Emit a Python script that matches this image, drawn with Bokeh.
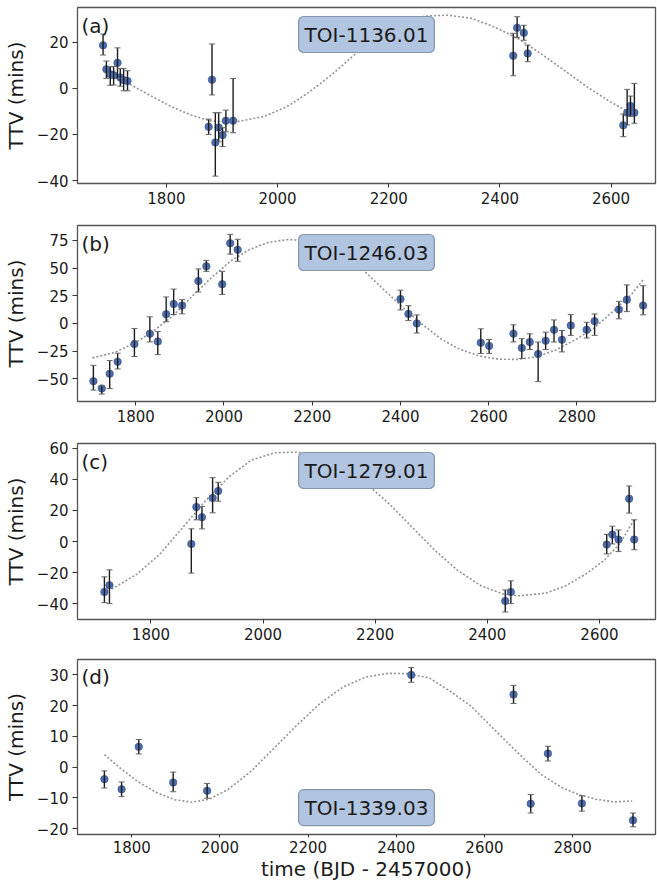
from bokeh.plotting import figure
from bokeh.layouts import column
from bokeh.models import ColumnDataSource, Whisker, TeeHead, Label, FixedTicker, Range1d
from bokeh.embed import file_html
from bokeh.resources import INLINE

FONT = "DejaVu Sans"

# ---------------- data ----------------
names = ["TOI-1136.01", "TOI-1246.03", "TOI-1279.01", "TOI-1339.03"]
letters = ["(a)", "(b)", "(c)", "(d)"]

t_a = [1686, 1692, 1699, 1705, 1712, 1717, 1723, 1730, 1876, 1882, 1888, 1894, 1901, 1907, 1920,
       2424, 2431, 2443, 2450, 2622, 2629, 2635, 2642]
ttv_a = [18.6, 8.2, 6.1, 5.6, 11.0, 4.7, 3.5, 3.1, -16.7, 3.7, -23.5, -17.0, -20.3, -14.1, -14.1,
         14.1, 26.2, 24.0, 15.1, -16.1, -10.6, -7.7, -10.6]
lo_a = [4.2, 3.9, 4.8, 4.2, 6.8, 3.8, 4.6, 4.2, 3.3, 6.6, 14.6, 6.2, 5.0, 4.8, 5.2,
        8.7, 4.3, 3.2, 3.6, 4.9, 5.3, 4.6, 4.6]
hi_a = [4.9, 3.6, 3.2, 3.8, 6.5, 3.9, 5.0, 4.5, 3.3, 15.5, 12.9, 6.4, 3.2, 4.6, 18.3,
        9.7, 4.8, 3.3, 3.6, 4.9, 10.1, 4.3, 12.7]
model_t_a = [1728, 1775, 1809, 1844, 1878, 1920, 1975, 2017, 2058, 2100, 2141, 2183, 2224, 2266,
             2307, 2349, 2390, 2432, 2473, 2515, 2557, 2598, 2626]
model_a = [2.5, -3.7, -8.0, -11.6, -14.1, -14.8, -12.3, -8.0, -1.5, 6.4, 15.1, 23.0, 28.9, 31.3,
           31.7, 30.3, 26.6, 21.6, 15.1, 7.9, 0.6, -5.8, -9.5]

t_b = [1704, 1723, 1741, 1759, 1797, 1832, 1850, 1869, 1886, 1905, 1942, 1960, 1996, 2014, 2031,
       2400, 2418, 2437, 2582, 2601, 2656, 2675, 2693, 2712, 2729, 2748, 2766, 2786, 2822, 2840,
       2895, 2913, 2950]
ttv_b = [-52.0, -58.5, -45.3, -34.5, -18.5, -9.2, -16.2, 8.4, 17.6, 16.1, 38.2, 51.5, 35.4, 72.3, 66.4,
         22.0, 8.6, 0.0, -17.3, -20.2, -9.2, -22.0, -16.7, -27.4, -15.5, -5.7, -14.6, -1.8, -5.7, 2.1,
         12.5, 21.4, 16.1]
lo_b = [8.0, 5.1, 13.4, 6.5, 11.3, 7.4, 11.9, 6.8, 9.5, 7.4, 9.8, 4.5, 9.2, 9.8, 10.4,
        9.8, 6.0, 8.6, 9.8, 6.8, 7.4, 9.5, 6.8, 25.0, 8.0, 11.0, 11.0, 8.9, 7.4, 12.8,
        8.3, 10.7, 8.3]
hi_b = [14.3, 2.4, 11.9, 7.7, 14.0, 15.2, 8.9, 15.5, 13.4, 5.4, 11.0, 5.4, 11.6, 8.0, 9.5,
        8.0, 7.4, 7.7, 12.5, 5.7, 8.0, 8.3, 7.4, 10.7, 7.7, 8.9, 8.3, 9.8, 6.8, 6.5,
        7.4, 13.4, 17.9]
model_t_b = [1702, 1755, 1799, 1842, 1885, 1929, 1972, 2015, 2058, 2101, 2145, 2188, 2231, 2275, 2318,
             2361, 2405, 2448, 2491, 2534, 2578, 2621, 2664, 2708, 2751, 2794, 2837, 2881, 2924, 2950]
model_b = [-31.0, -25.6, -17.3, -6.3, 7.1, 25.0, 41.4, 56.3, 66.7, 73.2, 75.6, 74.7, 70.2, 60.7, 47.3,
           31.0, 14.6, -0.3, -13.7, -23.2, -29.2, -32.1, -32.4, -30.1, -24.1, -15.2, -4.8, 10.7, 26.5, 39.3]

t_c = [1717, 1726, 1872, 1881, 1891, 1910, 1920, 2432, 2442, 2613, 2623, 2634, 2653, 2662]
ttv_c = [-32.3, -28.0, -1.5, 22.2, 15.7, 28.0, 32.5, -38.1, -32.3, -1.9, 4.5, 1.3, 27.5, 1.3]
lo_c = [6.9, 11.8, 18.7, 8.2, 7.5, 9.5, 6.5, 7.1, 7.5, 6.0, 6.0, 7.7, 9.2, 6.5]
hi_c = [9.7, 9.9, 9.7, 6.0, 6.9, 13.1, 5.6, 7.1, 7.1, 6.5, 5.4, 6.2, 8.2, 12.7]
model_t_c = [1730, 1775, 1816, 1857, 1898, 1939, 1979, 2020, 2061, 2102, 2143, 2184, 2225, 2266, 2307,
             2348, 2389, 2430, 2457, 2505, 2540, 2577, 2610, 2637, 2662]
model_c = [-30.5, -20.9, -8.0, 9.2, 26.5, 41.5, 52.3, 57.0, 57.6, 54.4, 46.9, 37.2, 24.3, 9.2, -5.8,
           -18.7, -28.4, -33.8, -34.8, -33.0, -28.4, -20.5, -11.5, -1.0, 14.0]

t_d = [1738, 1777, 1816, 1894, 1971, 2434, 2666, 2705, 2744, 2821, 2937]
ttv_d = [-3.9, -7.2, 6.6, -5.0, -7.7, 30.0, 23.6, -11.9, 4.4, -11.8, -17.3]
lo_d = [2.9, 2.4, 2.3, 3.0, 2.4, 2.4, 2.9, 3.0, 2.4, 2.5, 2.1]
hi_d = [2.7, 2.4, 2.4, 3.4, 2.4, 2.4, 3.0, 3.0, 2.4, 2.5, 2.4]
model_t_d = [1738, 1777, 1812, 1855, 1898, 1937, 1976, 2019, 2071, 2123, 2175, 2227, 2279, 2331, 2382,
             2425, 2475, 2525, 2570, 2610, 2650, 2690, 2730, 2775, 2815, 2855, 2895, 2935]
model_d = [4.1, -0.7, -4.5, -8.2, -10.6, -11.4, -10.4, -7.2, -1.3, 6.2, 13.7, 20.7, 26.0, 29.3, 30.5,
           30.4, 29.0, 24.4, 19.8, 14.0, 8.3, 2.7, -2.5, -6.6, -9.0, -10.5, -11.3, -11.0]

# axis limits and ticks
xlim_a, ylim_a = (1640, 2680), (-41.3, 35.0)
xlim_b, ylim_b = (1668, 2978), (-70.3, 88.3)
xlim_c, ylim_c = (1669, 2700), (-50.0, 63.0)
xlim_d, ylim_d = (1677, 2988), (-21.9, 35.0)
xticks_a = [1800, 2000, 2200, 2400, 2600]
xticks_b = [1800, 2000, 2200, 2400, 2600, 2800]
xticks_c = [1800, 2000, 2200, 2400, 2600]
xticks_d = [1800, 2000, 2200, 2400, 2600, 2800]
yticks_a = [-40, -20, 0, 20]
yticks_b = [-50, -25, 0, 25, 50, 75]
yticks_c = [-40, -20, 0, 20, 40, 60]
yticks_d = [-20, -10, 0, 10, 20, 30]

# ---------------- styling ----------------
POINT_FILL = "#4d6dae"
POINT_LINE = "#34508c"
ERR_COLOR = "#1c1c1c"
MODEL_COLOR = "#939393"
FRAME_COLOR = "#555555"
TXT = "#1a1a1a"

W = 657
LEFT = 77
RIGHT = 2
TOP = 7
FRAME_H = 176


def minus_labels(ticks):
    return {t: (("\u2212" + str(abs(t))) if t < 0 else str(t)) for t in ticks}


def make_panel(t, y, lo, hi, mt, my, xlim, ylim, xticks, yticks, letter, name,
               bottom, box_top, show_xlabel):
    height = TOP + FRAME_H + bottom
    frame_w = W - LEFT - RIGHT
    p = figure(width=W, height=height, output_backend="svg", toolbar_location=None,
               x_range=Range1d(*xlim), y_range=Range1d(*ylim),
               min_border_left=LEFT, min_border_right=RIGHT, min_border_top=TOP,
               min_border_bottom=bottom)
    p.grid.visible = False
    p.background_fill_color = "white"
    p.border_fill_color = "white"
    p.outline_line_color = FRAME_COLOR
    p.outline_line_width = 1.3

    for ax in (p.xaxis[0], p.yaxis[0]):
        ax.axis_line_color = None
        ax.major_tick_line_color = "#333333"
        ax.major_tick_line_width = 1
        ax.major_tick_out = 4
        ax.major_tick_in = 0
        ax.minor_tick_line_color = None
        ax.major_label_text_font = FONT
        ax.major_label_text_font_size = "15px"
        ax.major_label_text_color = TXT
        ax.major_label_standoff = 4
        ax.axis_label_text_font = FONT
        ax.axis_label_text_font_style = "normal"
        ax.axis_label_text_font_size = "20px"
        ax.axis_label_text_color = TXT
    p.xaxis[0].ticker = FixedTicker(ticks=xticks)
    p.yaxis[0].ticker = FixedTicker(ticks=yticks)
    p.yaxis[0].major_label_overrides = minus_labels(yticks)
    p.yaxis[0].axis_label = "TTV (mins)"
    p.yaxis[0].axis_label_standoff = 6
    p.yaxis[0].major_tick_out = 5
    p.yaxis[0].major_label_standoff = 4
    if show_xlabel:
        p.xaxis[0].axis_label = "time (BJD - 2457000)"
        p.xaxis[0].axis_label_standoff = 1
        p.xaxis[0].major_label_standoff = 3
        p.xaxis[0].major_tick_out = 3

    # model curve
    p.line(mt, my, line_color=MODEL_COLOR, line_width=1.6, line_dash="2 2")

    src = ColumnDataSource(dict(
        t=t, y=y,
        lower=[v - e for v, e in zip(y, lo)],
        upper=[v + e for v, e in zip(y, hi)],
    ))
    w = Whisker(source=src, base="t", lower="lower", upper="upper",
                line_color=ERR_COLOR, line_width=1.4, level="glyph",
                upper_head=TeeHead(size=6, line_color="#666666", line_width=1),
                lower_head=TeeHead(size=6, line_color="#666666", line_width=1))
    p.add_layout(w)
    p.scatter("t", "y", source=src, size=7.5, fill_color=POINT_FILL,
              line_color=POINT_LINE, line_width=0.6)

    # pixel -> data conversions for text placement
    ppx = frame_w / (xlim[1] - xlim[0])
    ppy = FRAME_H / (ylim[1] - ylim[0])

    p.add_layout(Label(x=xlim[0] + 4 / ppx, y=ylim[1] - 6 / ppy, text=letter,
                       text_font=FONT, text_font_size="20px", text_color=TXT,
                       text_align="left", text_baseline="top"))

    if box_top:
        by = ylim[1] - 27 / ppy
    else:
        by = ylim[0] + 27 / ppy
    p.add_layout(Label(x=(xlim[0] + xlim[1]) / 2, y=by, text=name,
                       text_font=FONT, text_font_size="20px", text_color=TXT,
                       text_align="center", text_baseline="middle",
                       background_fill_color="#b2c5e0", background_fill_alpha=1.0,
                       border_line_color="#8595ab", border_line_width=1.2,
                       padding=6, border_radius=5))
    return p


pa = make_panel(t_a, ttv_a, lo_a, hi_a, model_t_a, model_a, xlim_a, ylim_a, xticks_a, yticks_a,
                letters[0], names[0], 35, True, False)
pb = make_panel(t_b, ttv_b, lo_b, hi_b, model_t_b, model_b, xlim_b, ylim_b, xticks_b, yticks_b,
                letters[1], names[1], 35, True, False)
pc = make_panel(t_c, ttv_c, lo_c, hi_c, model_t_c, model_c, xlim_c, ylim_c, xticks_c, yticks_c,
                letters[2], names[2], 33, True, False)
pd = make_panel(t_d, ttv_d, lo_d, hi_d, model_t_d, model_d, xlim_d, ylim_d, xticks_d, yticks_d,
                letters[3], names[3], 48, False, True)

layout = column(pa, pb, pc, pd, spacing=0)

with open("out.html", "w") as f:
    f.write(file_html(layout, INLINE))
